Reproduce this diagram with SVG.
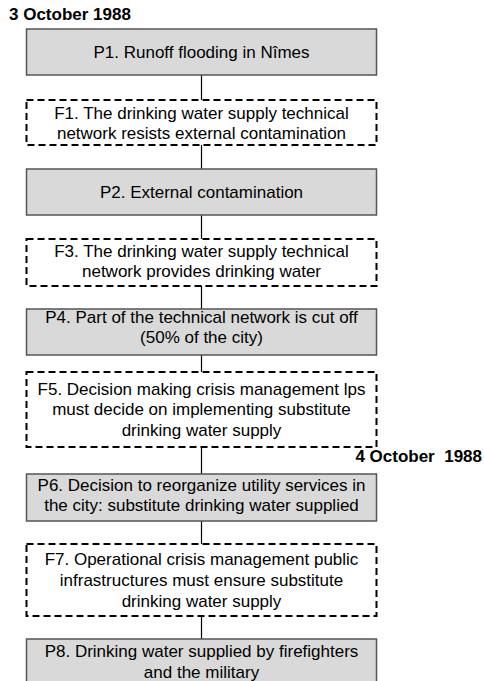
<svg xmlns="http://www.w3.org/2000/svg" width="484" height="681" viewBox="0 0 484 681">
<style>
.p{fill:#d9d9d9;stroke:#555555;stroke-width:1.5}
.f{fill:#ffffff;stroke:#000000;stroke-width:2;stroke-dasharray:7 4}
.t{font-family:"Liberation Sans",Arial,sans-serif;font-size:17px;fill:#000;text-anchor:middle}
.d{font-family:"Liberation Sans",Arial,sans-serif;font-size:17px;font-weight:bold;fill:#000}
.c{stroke:#000;stroke-width:1.2;fill:none}
</style>
<rect width="484" height="681" fill="#fff"/>
<g id="connectors">
<line class="c" x1="201.5" y1="75" x2="201.5" y2="100"/>
<line class="c" x1="201.5" y1="145" x2="201.5" y2="169"/>
<line class="c" x1="201.5" y1="215" x2="201.5" y2="239"/>
<line class="c" x1="201.5" y1="286" x2="201.5" y2="309"/>
<line class="c" x1="201.5" y1="355" x2="201.5" y2="372"/>
<line class="c" x1="201.5" y1="447" x2="201.5" y2="474"/>
<line class="c" x1="201.5" y1="521" x2="201.5" y2="544"/>
<line class="c" x1="201.5" y1="616" x2="201.5" y2="639"/>
</g>
<g id="date1"><text class="d" x="9" y="20">3 October 1988</text></g>
<g id="date2"><text class="d" x="482" y="462" text-anchor="end" xml:space="preserve">4 October  1988</text></g>
<g id="P1"><rect class="p" x="26.5" y="29" width="350" height="46"/>
<text class="t" x="201.5" y="58">P1. Runoff flooding in Nîmes</text></g>
<g id="F1"><rect class="f" x="26.5" y="100" width="350" height="45"/>
<text class="t" x="201.5" y="119">F1. The drinking water supply technical</text>
<text class="t" x="201.5" y="139">network resists external contamination</text></g>
<g id="P2"><rect class="p" x="26.5" y="169" width="350" height="46"/>
<text class="t" x="201.5" y="198">P2. External contamination</text></g>
<g id="F3"><rect class="f" x="26.5" y="239" width="350" height="47"/>
<text class="t" x="201.5" y="257">F3. The drinking water supply technical</text>
<text class="t" x="201.5" y="277">network provides drinking water</text></g>
<g id="P4"><rect class="p" x="26.5" y="309" width="350" height="46"/>
<text class="t" x="201.5" y="323">P4. Part of the technical network is cut off</text>
<text class="t" x="201.5" y="343">(50% of the city)</text></g>
<g id="F5"><rect class="f" x="26.5" y="372" width="350" height="75"/>
<text class="t" x="201.5" y="395">F5. Decision making crisis management lps</text>
<text class="t" x="201.5" y="415">must decide on implementing substitute</text>
<text class="t" x="201.5" y="436">drinking water supply</text></g>
<g id="P6"><rect class="p" x="26.5" y="474" width="350" height="47"/>
<text class="t" x="201.5" y="491">P6. Decision to reorganize utility services in</text>
<text class="t" x="201.5" y="511">the city: substitute drinking water supplied</text></g>
<g id="F7"><rect class="f" x="26.5" y="544" width="350" height="72"/>
<text class="t" x="201.5" y="565">F7. Operational crisis management public</text>
<text class="t" x="201.5" y="586">infrastructures must ensure substitute</text>
<text class="t" x="201.5" y="607">drinking water supply</text></g>
<g id="P8"><rect class="p" x="26.5" y="639" width="350" height="50"/>
<text class="t" x="201.5" y="657">P8. Drinking water supplied by firefighters</text>
<text class="t" x="201.5" y="678">and the military</text></g>
</svg>
